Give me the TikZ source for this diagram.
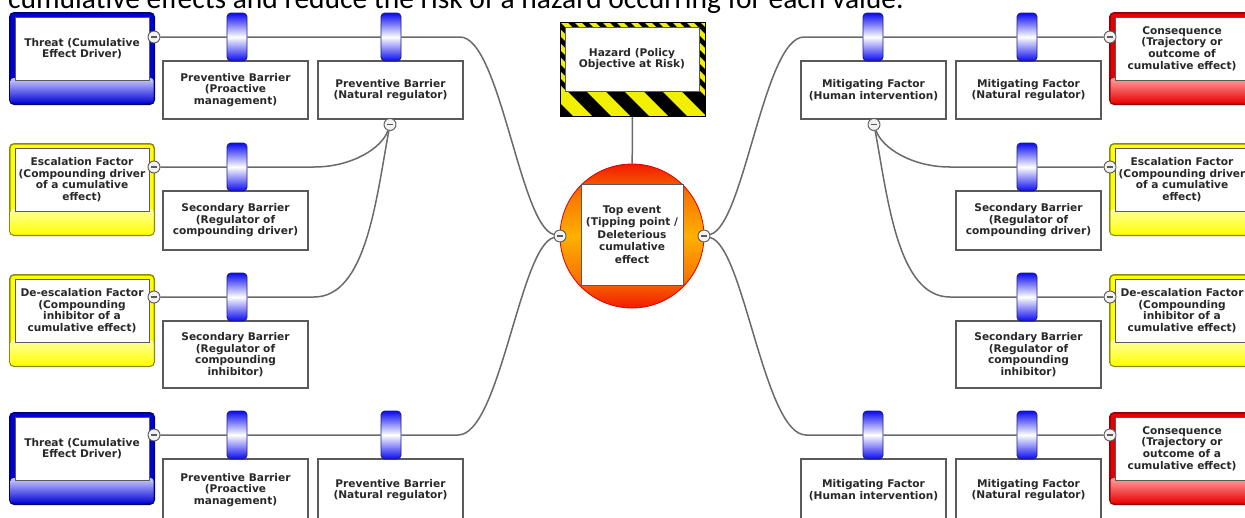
\documentclass[tikz,border=0pt]{standalone}
\usepackage{fontspec}
\setmainfont{DejaVu Sans}
\newfontfamily\capfont{Carlito}
\usetikzlibrary{calc}
\definecolor{linegray}{HTML}{6A6A6A}
\definecolor{boxgray}{HTML}{5A5A5A}
\definecolor{txtgray}{HTML}{282828}
\definecolor{pillblue}{HTML}{0A0AF0}
\definecolor{pilledge}{HTML}{1A1A8A}
\definecolor{thrblue}{HTML}{0000D8}
\definecolor{thrlight}{HTML}{D0D0FF}
\definecolor{thredge}{HTML}{000070}
\definecolor{escyellow}{HTML}{FFFF00}
\definecolor{esclight}{HTML}{FFFFA0}
\definecolor{escedge}{HTML}{8A8A10}
\definecolor{conred}{HTML}{E80000}
\definecolor{conlight}{HTML}{FFA0A0}
\definecolor{conedge}{HTML}{900000}
\definecolor{hazyellow}{HTML}{F0F000}
\definecolor{tevred}{HTML}{F00000}
\definecolor{tevorange}{HTML}{F87800}
\definecolor{tevyellow}{HTML}{FFB000}
\pgfdeclarelayer{bg}
\pgfsetlayers{bg,main}
\pgfdeclareverticalshading{tevshade}{100bp}{color(0bp)=(tevred); color(22bp)=(tevred); color(36bp)=(tevorange); color(50bp)=(tevyellow); color(64bp)=(tevorange); color(78bp)=(tevred); color(100bp)=(tevred)}
\newcommand{\boxtext}{\bfseries\fontsize{10.6}{11.6}\selectfont}
\tikzset{
 link/.style={draw=linegray, line width=1.5pt},
 barbox/.style={draw=boxgray, line width=1.1pt, fill=white, minimum width=145pt, inner sep=1pt, align=center, font=\boxtext, text=txtgray},
 innerbox/.style={draw=boxgray, line width=0.9pt, fill=white, minimum width=134pt, minimum height=63pt, inner sep=0pt, align=center, font=\boxtext, text=txtgray},
 pillnode/.style={draw=pilledge, line width=0.9pt, rounded corners=4pt, minimum width=20pt, minimum height=48pt, inner sep=0pt, top color=pillblue, bottom color=pillblue, middle color=white},
 minusnode/.style={circle, draw=boxgray, fill=gray!10, line width=0.9pt, minimum size=12pt, inner sep=0pt, path picture={\draw[boxgray, line width=1.1pt] ([xshift=-3.2pt]path picture bounding box.center) -- ([xshift=3.2pt]path picture bounding box.center);}},
}
% #1 name, #2 left x, #3 top y, #4 main, #5 light, #6 edge, #7 text
\newcommand{\factorbox}[7]{%
 \fill[#6, rounded corners=5pt] (#2,#3) rectangle ++(146,93);
 \fill[#4, rounded corners=4pt] (#2+1.5,#3+1.5) rectangle ++(143,90);
 \shade[top color=#5, bottom color=#4, rounded corners=3pt] (#2+1.5,#3+66) rectangle ++(143,25.5);
 \node[innerbox] (#1) at (#2+73,#3+36.5) {#7};
}
\begin{document}
\begin{tikzpicture}[x=1pt,y=-1pt]
\useasboundingbox (0,0) rectangle (1245,517);
\begin{pgfonlayer}{bg}
\fill[white] (0,0) rectangle (1245,517);
\end{pgfonlayer}

\node[anchor=base west, inner sep=0pt, font=\capfont\fontsize{29.5}{34}\selectfont] (cap) at (8,8) {cumulative effects and reduce the risk of a hazard occurring for each value.};

% factor boxes left
\factorbox{t1}{9}{12}{thrblue}{thrlight}{thredge}{Threat (Cumulative\\Effect Driver)}
\factorbox{e1}{9}{143}{escyellow}{esclight}{escedge}{Escalation Factor\\(Compounding driver\\of a cumulative\\effect)}
\factorbox{d1}{9}{274}{escyellow}{esclight}{escedge}{De-escalation Factor\\(Compounding\\inhibitor of a\\cumulative effect)}
\factorbox{t2}{9}{412}{thrblue}{thrlight}{thredge}{Threat (Cumulative\\Effect Driver)}
% factor boxes right
\factorbox{c1}{1109}{12}{conred}{conlight}{conedge}{Consequence\\(Trajectory or\\outcome of\\cumulative effect)}
\factorbox{e2}{1109}{143}{escyellow}{esclight}{escedge}{Escalation Factor\\(Compounding driver\\of a cumulative\\effect)}
\factorbox{d2}{1109}{274}{escyellow}{esclight}{escedge}{De-escalation Factor\\(Compounding\\inhibitor of a\\cumulative effect)}
\factorbox{c2}{1109}{412}{conred}{conlight}{conedge}{Consequence\\(Trajectory or\\outcome of a\\cumulative effect)}

% barrier boxes left
\node[barbox, minimum height=58pt] (b1a) at (235.5,90) {Preventive Barrier\\(Proactive\\management)};
\node[barbox, minimum height=58pt] (b1b) at (390.5,90) {Preventive Barrier\\(Natural regulator)};
\node[barbox, minimum height=59pt] (b2a) at (235.5,220.5) {Secondary Barrier\\(Regulator of\\compounding driver)};
\node[barbox, minimum height=67pt] (b3a) at (235.5,354.5) {Secondary Barrier\\(Regulator of\\compounding\\inhibitor)};
\node[barbox, minimum height=62pt] (b4a) at (235.5,490) {Preventive Barrier\\(Proactive\\management)};
\node[barbox, minimum height=62pt] (b4b) at (390.5,490) {Preventive Barrier\\(Natural regulator)};
% barrier boxes right
\node[barbox, minimum height=58pt] (b1c) at (873.5,90) {Mitigating Factor\\(Human intervention)};
\node[barbox, minimum height=58pt] (b1d) at (1028.5,90) {Mitigating Factor\\(Natural regulator)};
\node[barbox, minimum height=59pt] (b2d) at (1028.5,220.5) {Secondary Barrier\\(Regulator of\\compounding driver)};
\node[barbox, minimum height=67pt] (b3d) at (1028.5,354.5) {Secondary Barrier\\(Regulator of\\compounding\\inhibitor)};
\node[barbox, minimum height=62pt] (b4c) at (873.5,490) {Mitigating Factor\\(Human intervention)};
\node[barbox, minimum height=62pt] (b4d) at (1028.5,490) {Mitigating Factor\\(Natural regulator)};

% pills
\node[pillnode] (p1a) at (237,37) {};
\node[pillnode] (p1b) at (391,37) {};
\node[pillnode] (p2a) at (237,167) {};
\node[pillnode] (p3a) at (237,297) {};
\node[pillnode] (p4a) at (237,435) {};
\node[pillnode] (p4b) at (391,435) {};
\node[pillnode] (p1c) at (873,37) {};
\node[pillnode] (p1d) at (1027,37) {};
\node[pillnode] (p2d) at (1027,167) {};
\node[pillnode] (p3d) at (1027,297) {};
\node[pillnode] (p4c) at (873,435) {};
\node[pillnode] (p4d) at (1027,435) {};

% hazard
\node[draw=black, line width=1pt, fill=black, minimum width=145pt, minimum height=94pt, inner sep=0pt] (haz) at (632.5,69) {};
\begin{scope}
 \clip (560,91) rectangle (705,116);
 \foreach \i in {-1,...,4} \fill[hazyellow] (548+\i*38,91) -- ++(19,0) -- ++(25,25) -- ++(-19,0) -- cycle;
\end{scope}
\begin{scope}
 \clip (560,22) rectangle (705,91);
 \foreach \i in {-6,...,11} \fill[hazyellow] (560+\i*14,22) -- ++(7,0) -- ++(69,69) -- ++(-7,0) -- cycle;
\end{scope}
\draw[black, line width=1pt] (560,22) rectangle (705,116);
\node[draw=boxgray, fill=white, line width=0.9pt, minimum width=134pt, minimum height=64pt, inner sep=0pt, align=center, font=\boxtext, text=txtgray] (haztext) at (632,59) {Hazard (Policy\\Objective at Risk)};

% top event
\node[circle, minimum size=144pt, inner sep=0pt, shading=tevshade, draw=red!85!black, line width=0.8pt] (tev) at (632,236) {};
\node[draw=boxgray, fill=white, minimum width=102pt, minimum height=101pt, line width=0.9pt, inner sep=0pt, align=center, font=\bfseries\fontsize{10.6}{12.5}\selectfont, text=txtgray] (tevtext) at (632,234.5) {Top event\\(Tipping point /\\Deleterious\\cumulative\\effect};

% minus nodes
\node[minusnode] (mt1) at (154,37) {};
\node[minusnode] (mt2) at (154,167) {};
\node[minusnode] (mt3) at (154,297) {};
\node[minusnode] (mt4) at (154,435) {};
\node[minusnode] (mr1) at (1110,37) {};
\node[minusnode] (mr2) at (1110,167) {};
\node[minusnode] (mr3) at (1110,297) {};
\node[minusnode] (mr4) at (1110,435) {};
\node[minusnode] (mb1) at (390,124.5) {};
\node[minusnode] (mb2) at (874,124.5) {};
\node[minusnode] (tml) at (560,236) {};
\node[minusnode] (tmr) at (704,236) {};

\coordinate (k1) at (460,37);
\coordinate (k2) at (314,167);
\coordinate (k3) at (314,297);
\coordinate (k4) at (458,435);
\coordinate (k1r) at (804,37);
\coordinate (k2r) at (950,167);
\coordinate (k3r) at (950,297);
\coordinate (k4r) at (806,435);

\begin{pgfonlayer}{bg}
\draw[link] (haz) -- (tev);
\draw[link] (mt1) -- (p1a) -- (p1b) -- (k1) .. controls (500,37) and (520,226) .. (tml);
\draw[link] (mt2) -- (p2a) -- (k2) .. controls (352,167) and (382,148) .. (mb1);
\draw[link] (mt3) -- (p3a) -- (k3) .. controls (366,297) and (376,200) .. (mb1);
\draw[link] (mt4) -- (p4a) -- (p4b) -- (k4) .. controls (500,435) and (520,246) .. (tml);
\draw[link] (mr1) -- (p1d) -- (p1c) -- (k1r) .. controls (764,37) and (744,226) .. (tmr);
\draw[link] (mr2) -- (p2d) -- (k2r) .. controls (912,167) and (882,148) .. (mb2);
\draw[link] (mr3) -- (p3d) -- (k3r) .. controls (898,297) and (888,200) .. (mb2);
\draw[link] (mr4) -- (p4d) -- (p4c) -- (k4r) .. controls (764,435) and (744,246) .. (tmr);
\end{pgfonlayer}
\end{tikzpicture}
\end{document}
